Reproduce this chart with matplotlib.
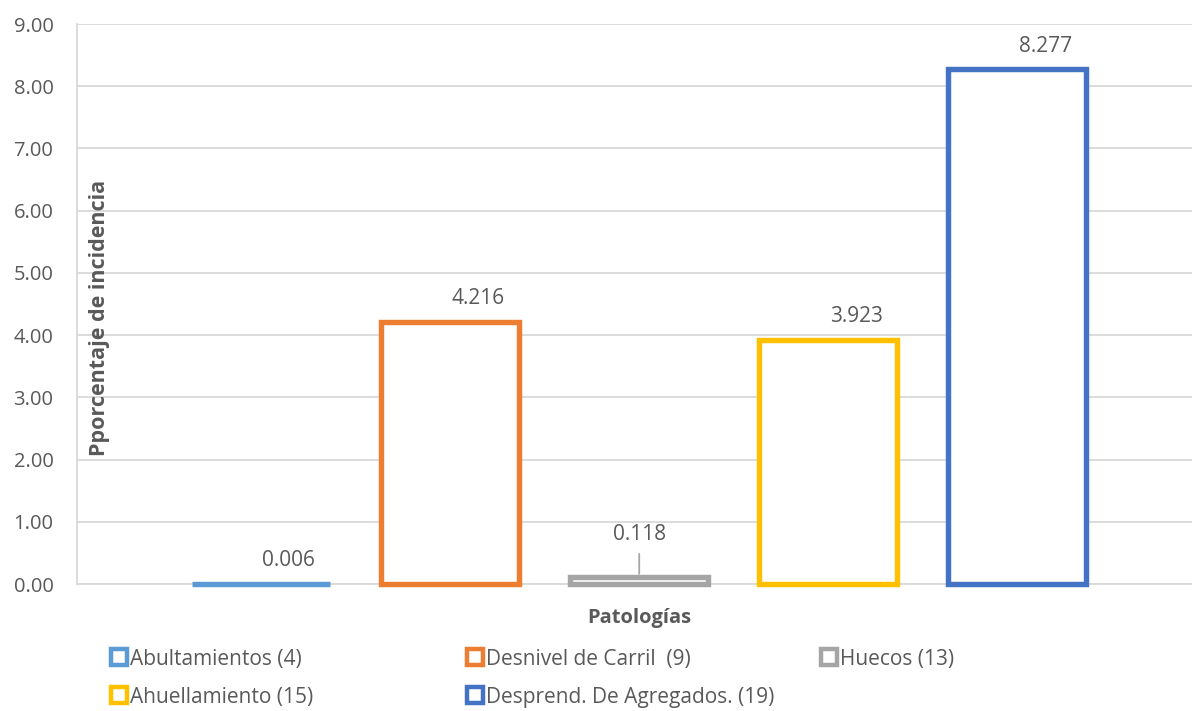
import matplotlib.pyplot as plt
from matplotlib.lines import Line2D

# data
series = ["Abultamientos (4)", "Desnivel de Carril  (9)", "Huecos (13)",
          "Ahuellamiento (15)", "Desprend. De Agregados. (19)"]
values = [0.006, 4.216, 0.118, 3.923, 8.277]
labels = ["0.006", "4.216", "0.118", "3.923", "8.277"]
colors = ["#5B9BD5", "#ED7D31", "#A5A5A5", "#FFC000", "#4472C4"]
yticks = [0, 1, 2, 3, 4, 5, 6, 7, 8, 9]

txt = "#595959"
grid = "#D9D9D9"
plt.rcParams['font.family'] = ['Open Sans', 'DejaVu Sans']

fig = plt.figure(figsize=(11.92, 7.11), dpi=100)
ax = fig.add_axes([77/1192, 1-584/711, 1-77/1192, (584-24)/711])

x = list(range(len(values)))
bars = ax.bar(x, values, width=0.73, facecolor="white", edgecolor=colors,
              linewidth=3.9, zorder=3)
for b in bars:
    b.set_clip_on(False)

# data labels (Excel puts most of them a bit to the right)
for i, v in enumerate(values):
    if labels[i] == "0.118":
        ax.annotate(labels[i], xy=(i, v), xytext=(0, 30), textcoords="offset points",
                    ha="center", va="center", fontsize=15, color=txt,
                    arrowprops=dict(arrowstyle="-", color="#A6A6A6", lw=1.3,
                                    shrinkA=4, shrinkB=2))
    else:
        ax.annotate(labels[i], xy=(i, v), xytext=(20, 16.5), textcoords="offset points",
                    ha="center", va="center", fontsize=15, color=txt)

ax.set_xlim(-0.973, 4.923)
ax.set_ylim(0, 9)
ax.set_yticks(yticks)
ax.set_yticklabels(["%.2f" % t for t in yticks])
ax.set_xticks([])
ax.tick_params(axis="y", length=0, pad=17, labelsize=14.5, labelcolor=txt)
ax.yaxis.grid(True, color=grid, linewidth=1.3, zorder=0)
ax.set_axisbelow(True)
for s in ["top", "right"]:
    ax.spines[s].set_visible(False)
ax.spines["left"].set_color(grid)
ax.spines["left"].set_linewidth(1.3)
ax.spines["bottom"].set_color(grid)
ax.spines["bottom"].set_linewidth(1.3)

fig.text(100/1192, 1-318/711, "Pporcentaje de incidencia", rotation=90,
         ha="center", va="center", fontsize=15.5, fontweight="bold", color=txt)
fig.text(639/1192, 1-618/711, "Patologías", ha="center", va="center",
         fontsize=14.5, fontweight="bold", color=txt)

# legend: equal-width columns like Excel
legpos = [(110, 659), (466, 659), (820, 659), (110, 697), (466, 697)]
for i, name in enumerate(series):
    h = Line2D([], [], linestyle="none", marker="s", markersize=11,
               markerfacecolor="white", markeredgecolor=colors[i],
               markeredgewidth=3.2)
    fig.legend(handles=[h], labels=[name], loc="center left",
               bbox_to_anchor=(legpos[i][0]/1192, 1-legpos[i][1]/711),
               frameon=False, fontsize=15, labelcolor=txt,
               handlelength=0.85, handletextpad=0.12, borderpad=0, borderaxespad=0)

fig.savefig("out.png", dpi=100)
